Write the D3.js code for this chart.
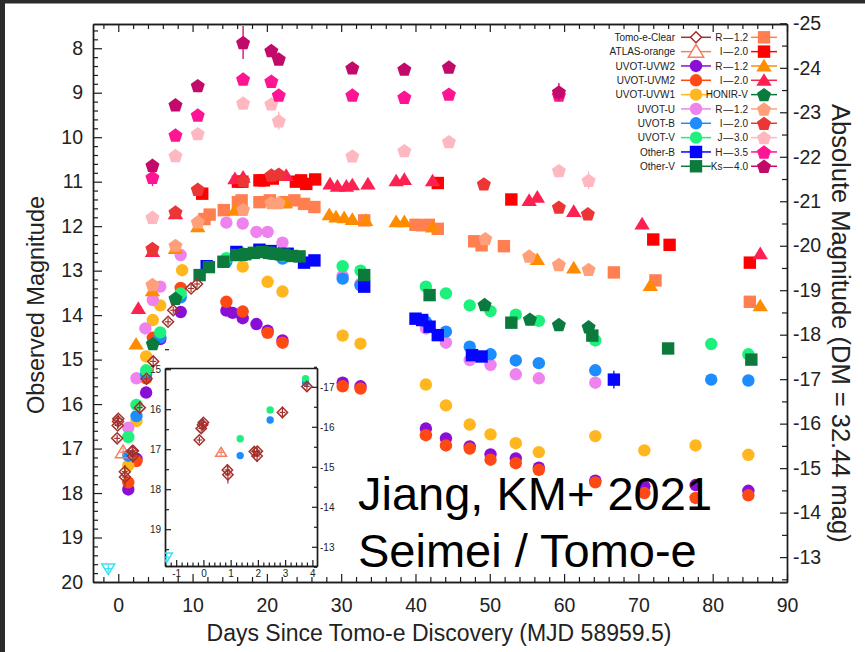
<!DOCTYPE html>
<html>
<head>
<meta charset="utf-8">
<script src="https://cdn.jsdelivr.net/npm/d3@7"></script>
<style>
  html, body { margin: 0; padding: 0; background: #fff; }
  svg { display: block; font-family: "Liberation Sans", Arial, Helvetica, sans-serif; }
</style>
</head>
<body>
<svg id="chart" width="865" height="652"></svg>
<script>
// Light curves: [days since Tomo-e discovery, observed magnitude, (1-sigma error)]
const tomoeClear = [[-0.15,16.77,0.08],[-0.08,16.48,0.08],[-0.03,16.39,0.08],[0.0,16.33,0.08],
  [0.88,17.52,0.15],[0.9,17.64,0.22],[1.87,17.06,0.12],[1.98,17.05,0.1],[1.97,17.17,0.15],
  [2.9,16.08,0.15],[3.8,15.43,0.08],[4.7,15.04,0.12],[6.7,14.15,0.08],[7.4,13.89,0.08],
  [9.8,13.4,0.05],[10.6,13.3,0.05]];
const atlasOrange = [[0.65,17.08,0.08]];
const upperLimits = [[-1.35,19.7]];
const uvotUVW2 = [[1.35,17.92],[2.45,17.23],[3.75,15.74],[5.65,14.54],[8.4,13.93],[14.55,13.9],
  [15.4,13.95],[16.75,14.07],[18.6,14.2],[20.1,14.35],[22.1,14.57],[30.2,15.52],[32.6,15.6],
  [41.4,16.55],[44.1,16.77],[47.3,16.95],[50.1,17.13],[53.5,17.22],[56.6,17.43],[64.2,17.72],
  [70.8,17.85],[77.7,17.82],[84.8,17.95,0.1]];
const uvotUVM2 = [[1.35,17.76],[2.45,17.28],[3.75,15.42],[4.65,14.51],[8.4,13.39],[14.55,13.7],
  [16.75,13.92],[20.1,14.4],[22.1,14.62],[30.2,15.6],[32.6,15.65],[41.4,16.7],[44.1,16.93],
  [47.3,17.0],[50.1,17.25],[53.5,17.33],[56.6,17.48],[64.2,17.76],[70.8,18.0],[77.7,18.11],
  [84.8,18.05,0.1]];
const uvotUVW1 = [[1.35,17.38],[2.45,16.38],[3.75,14.93],[4.65,14.11],[5.65,13.78],[8.6,12.99],
  [16.75,12.91],[20.1,13.25],[22.1,13.47],[30.2,14.46],[32.6,14.64],[41.4,15.56],[44.1,16.03],
  [47.3,16.46],[50.1,16.68],[53.5,16.88],[56.6,17.08],[64.2,16.72],[70.8,17.04],[77.7,16.93],
  [84.8,17.14]];
const uvotU = [[1.35,16.53],[2.45,15.42],[3.65,14.3],[4.65,13.66],[5.65,13.36],[8.4,12.65],
  [14.55,11.92],[16.75,11.94],[18.6,12.13],[20.1,12.13],[22.1,12.37],[30.2,13.12],[32.6,13.3],
  [41.4,14.3],[44.1,14.62],[47.3,15.01],[50.1,15.12],[53.5,15.33],[56.6,15.42],[64.2,15.52]];
const uvotB = [[1.35,17.16],[2.45,16.27],[3.75,15.33],[5.65,14.5],[8.4,13.6],[14.55,12.8],
  [16.75,12.62],[20.1,12.6],[22.1,12.73],[30.2,13.18],[32.6,13.33],[41.4,14.15],[44.1,14.37],
  [47.3,14.71],[50.1,14.88],[53.5,15.02],[56.6,15.08],[64.2,15.24],[79.8,15.45],[84.8,15.47]];
const uvotV = [[1.35,16.74],[2.45,16.02],[3.75,15.24],[5.65,14.39],[8.4,13.51],[14.55,12.72],
  [16.75,12.62],[20.1,12.6],[22.1,12.66],[30.2,12.9],[32.6,13.0],[41.4,13.36],[44.1,13.51],
  [47.3,13.78],[50.1,13.91],[53.5,13.99],[56.6,14.13],[64.2,14.57],[79.8,14.65],[84.8,14.88]];
const otherB = [[11.9,12.9],[15.9,12.58],[19.0,12.53],[20.5,12.56],[22.8,12.62],[25.0,12.82],
  [26.4,12.77],[33.1,13.36],[40.0,14.08],[40.9,14.11],[41.9,14.26],[43.0,14.45],[47.6,14.9],
  [48.9,14.93],[66.7,15.45,0.2]];
const otherV = [[10.95,13.1],[12.2,12.92],[14.15,12.8],[15.9,12.65],[17.1,12.63],[18.25,12.6],
  [19.4,12.58],[20.3,12.6],[21.2,12.62],[22.3,12.64],[23.4,12.67],[24.4,12.68],[33.1,13.1],
  [41.9,13.55],[52.9,14.17],[63.8,14.46],[74.0,14.75],[85.2,15.0]];
const rSquare = [[11.6,11.84],[12.3,11.74],[14.2,11.64],[16.1,11.46],[16.6,11.42],[19.0,11.46],
  [20.4,11.42],[22.5,11.46],[23.7,11.42],[25.0,11.5],[26.4,11.57],[33.1,11.87],[40.0,11.97],
  [40.9,11.98],[41.8,11.97],[43.0,12.06],[47.9,12.34],[48.9,12.43],[51.9,12.45],[66.7,13.04],
  [72.3,13.22],[85.0,13.7]];
const iSquare = [[11.3,11.27],[16.1,11.0],[16.7,11.0],[19.0,10.97],[19.6,10.97],[20.8,10.93],
  [23.9,11.0],[24.6,10.97],[25.3,11.05],[26.5,10.95],[43.0,11.03],[52.9,11.4],[72.0,12.3],
  [74.2,12.42],[85.0,12.82]];
const rTriangle = [[2.4,14.65],[4.6,13.45],[7.7,12.5],[10.7,12.01],[15.7,11.64],[22.5,11.47],
  [28.4,11.74],[29.3,11.79],[30.4,11.81],[31.5,11.85],[33.3,11.87],[37.4,11.9],[38.5,11.9],
  [42.3,12.02],[56.4,12.75],[61.3,12.94],[71.6,13.33],[86.4,13.79]];
const iTriangle = [[2.7,13.85],[4.6,12.57],[7.7,11.72],[15.7,10.93],[16.8,10.9],[22.6,10.86],
  [28.5,11.05],[29.5,11.1],[30.7,11.1],[31.5,11.07],[33.6,11.05],[37.4,10.98],[38.5,10.95],
  [42.3,10.98],[55.3,11.42],[56.4,11.35],[61.3,11.67],[70.5,11.95],[86.4,12.62]];
const honirV = [[4.65,14.64],[7.7,13.62],[16.8,12.63],[20.6,12.6],[21.6,12.62],[49.3,13.76],
  [55.4,14.09],[59.3,14.21],[63.3,14.26]];
const rPentagon = [[4.6,13.31],[7.7,12.43],[10.7,11.9],[16.8,11.62],[20.6,11.47],[21.6,11.47],
  [49.4,12.28],[55.3,12.67],[59.3,12.86],[63.3,12.97]];
const iPentagon = [[4.6,12.5],[7.7,11.68],[10.7,11.17],[16.8,10.97],[20.6,10.85],[21.6,10.83],
  [49.2,11.05],[59.3,11.57],[63.2,11.72]];
const jBand = [[4.6,11.8,0.1],[7.7,10.41],[10.7,9.92],[16.8,9.23],[20.6,9.25],[21.6,9.63,0.2],
  [31.5,10.42],[38.5,10.3],[44.5,10.1],[59.3,10.75],[63.3,10.97,0.2]];
const hBand = [[4.6,10.9,0.2],[7.7,9.95],[10.7,9.5],[16.8,8.69],[20.6,8.74],[21.6,9.05],
  [31.5,9.05],[38.5,9.1],[44.5,9.03],[59.3,9.05]];
const ksBand = [[4.6,10.63,0.12],[7.7,9.27],[10.7,8.84],[16.8,7.87,0.37],[20.6,8.05],[21.6,8.24],
  [31.5,8.44],[38.5,8.47],[44.5,8.42],[59.3,8.98,0.2]];

// Axis ticks
const dayTicks = [0, 10, 20, 30, 40, 50, 60, 70, 80, 90];
const magTicks = [8, 9, 10, 11, 12, 13, 14, 15, 16, 17, 18, 19, 20];
const absTicks = [-25, -24, -23, -22, -21, -20, -19, -18, -17, -16, -15, -14, -13];
const insetDayTicks = [-1, 0, 1, 2, 3, 4];
const insetMagTicks = [15, 16, 17, 18, 19];
const insetAbsTicks = [-17, -16, -15, -14, -13];
const DM = 32.44;

// Series definitions (legend order: left column, then right column)
const series = [
  { label: 'Tomo-e-Clear', data: tomoeClear, shape: 'diamond', color: '#a3302c', open: true },
  { label: 'ATLAS-orange', data: atlasOrange, shape: 'triangle', color: '#f4805f', open: true },
  { label: 'UVOT-UVW2', data: uvotUVW2, shape: 'circle', color: '#8a0fd6' },
  { label: 'UVOT-UVM2', data: uvotUVM2, shape: 'circle', color: '#ff4914' },
  { label: 'UVOT-UVW1', data: uvotUVW1, shape: 'circle', color: '#ffb61f' },
  { label: 'UVOT-U', data: uvotU, shape: 'circle', color: '#ee82ee' },
  { label: 'UVOT-B', data: uvotB, shape: 'circle', color: '#1c8cff' },
  { label: 'UVOT-V', data: uvotV, shape: 'circle', color: '#1ef07c' },
  { label: 'Other-B', data: otherB, shape: 'square', color: '#0505ff' },
  { label: 'Other-V', data: otherV, shape: 'square', color: '#0b7a3c' },
  { label: 'R\u200A\u2014\u200A1.2', data: rSquare, shape: 'square', color: '#ff7f50' },
  { label: 'I\u200A\u2014\u200A2.0', data: iSquare, shape: 'square', color: '#ff0000' },
  { label: 'R\u200A\u2014\u200A1.2', data: rTriangle, shape: 'triangle', color: '#ff8c00' },
  { label: 'I\u200A\u2014\u200A2.0', data: iTriangle, shape: 'triangle', color: '#ff2052' },
  { label: 'HONIR-V', data: honirV, shape: 'pentagon', color: '#0a7a3e' },
  { label: 'R\u200A\u2014\u200A1.2', data: rPentagon, shape: 'pentagon', color: '#ffa07a' },
  { label: 'I\u200A\u2014\u200A2.0', data: iPentagon, shape: 'pentagon', color: '#ec3636' },
  { label: 'J\u200A\u2014\u200A3.0', data: jBand, shape: 'pentagon', color: '#ffb8c0' },
  { label: 'H\u200A\u2014\u200A3.5', data: hBand, shape: 'pentagon', color: '#ff1493' },
  { label: 'Ks\u200A\u2014\u200A4.0', data: ksBand, shape: 'pentagon', color: '#c20a6a' }
];
const limitSeries = { data: upperLimits, shape: 'triangleDown', color: '#35e2f2', open: true };

// Drawing order, bottom to top
const drawOrder = [2, 3, 4, 5, 6, 7, 10, 11, 12, 13, 8, 9, 14, 15, 16, 17, 18, 19, 1, 0];
// Series repeated in the early-time inset
const insetOrder = [6, 7, 1, 0];

const svg = d3.select('#chart');
const INK = '#1c1c1c';

// Dark page edge
svg.append('rect').attr('x', 0).attr('y', 0).attr('width', 865).attr('height', 3.5).attr('fill', '#2b2b2b');
svg.append('rect').attr('x', 0).attr('y', 0).attr('width', 5).attr('height', 652).attr('fill', '#2b2b2b');

// Main scales
const P = { l: 93, r: 787, t: 24, b: 582 };
const x = d3.scaleLinear().domain([-3.4, 90]).range([P.l, P.r]);
const y = d3.scaleLinear().domain([7.455, 20]).range([P.t, P.b]);
const yAbs = d3.scaleLinear().domain([7.455 - DM, 20 - DM]).range([P.t, P.b]);

function shapePath(shape, s) {
  switch (shape) {
    case 'circle':
      return `M${s},0A${s},${s},0,1,1,${-s},0A${s},${s},0,1,1,${s},0Z`;
    case 'square':
      return `M${-s},${-s}H${s}V${s}H${-s}Z`;
    case 'triangle': {
      const h = s * 1.15;
      return `M0,${-h}L${h * 1.08},${h * 0.78}L${-h * 1.08},${h * 0.78}Z`;
    }
    case 'triangleDown': {
      const h = s * 1.15;
      return `M0,${h}L${h * 1.08},${-h * 0.78}L${-h * 1.08},${-h * 0.78}Z`;
    }
    case 'diamond': {
      const h = s * 1.1;
      return `M0,${-h}L${h},0L0,${h}L${-h},0Z`;
    }
    case 'pentagon': {
      const R = s * 1.12;
      const pts = d3.range(5).map(i => {
        const a = -Math.PI / 2 + i * 2 * Math.PI / 5;
        return [R * Math.cos(a), R * Math.sin(a) + R * 0.1];
      });
      return 'M' + pts.map(p => p.join(',')).join('L') + 'Z';
    }
  }
}

const mainSize = { circle: 6.2, square: 6.2, triangle: 6.2, pentagon: 6.6, diamond: 5.0, triangleDown: 5.2 };
const insetSize = { circle: 3.7, square: 3.7, triangle: 4.4, pentagon: 4, diamond: 4.7, triangleDown: 4.6 };

function drawSeries(g, s, sx, sy, sizes) {
  const size = sizes[s.shape];
  const grp = g.append('g');
  // error bars
  grp.selectAll('line.err').data(s.data.filter(d => d[2] !== undefined && !s.open)).join('line')
    .attr('x1', d => sx(d[0])).attr('x2', d => sx(d[0]))
    .attr('y1', d => sy(d[1] - d[2])).attr('y2', d => sy(d[1] + d[2]))
    .attr('stroke', s.color).attr('stroke-width', 1.3);
  grp.selectAll('path.mk').data(s.data).join('path')
    .attr('transform', d => `translate(${sx(d[0])},${sy(d[1])})`)
    .attr('d', shapePath(s.shape, size))
    .attr('fill', s.open ? 'none' : s.color)
    .attr('stroke', s.open ? s.color : 'none')
    .attr('stroke-width', s.open ? 1.5 : 0);
  if (s.open) {
    // cross-hair error marks inside open symbols
    grp.selectAll('line.v').data(s.data).join('line')
      .attr('x1', d => sx(d[0])).attr('x2', d => sx(d[0]))
      .attr('y1', d => Math.min(sy(d[1]) - size * 0.7, d[2] ? sy(d[1] - d[2]) : Infinity))
      .attr('y2', d => Math.max(sy(d[1]) + size * 0.7, d[2] ? sy(d[1] + d[2]) : -Infinity))
      .attr('stroke', s.color).attr('stroke-width', 1.2);
    grp.selectAll('line.h').data(s.data).join('line')
      .attr('x1', d => sx(d[0]) - size * 0.6).attr('x2', d => sx(d[0]) + size * 0.6)
      .attr('y1', d => sy(d[1])).attr('y2', d => sy(d[1]))
      .attr('stroke', s.color).attr('stroke-width', 1.2);
  }
}

// ---- main panel axes ----
function styleAxis(g, fs) {
  g.select('.domain').attr('stroke', INK).attr('stroke-width', 1.4);
  g.selectAll('.tick line').attr('stroke', INK).attr('stroke-width', 1.2);
  g.selectAll('text').attr('font-size', fs).attr('fill', '#222')
    .attr('font-family', '"Liberation Sans", Arial, Helvetica, sans-serif');
}
const axes = svg.append('g');
const minorMag = d3.range(38, 101).filter(i => i % 5 !== 0).map(i => i / 5);
const minorDay = d3.range(-2, 90, 2).filter(d => d % 10 !== 0);
const minorAbs = d3.range(-49, -24, 2).map(i => i / 2);

axes.append('g').attr('transform', `translate(${P.l},0)`)
  .call(d3.axisLeft(y).tickValues(magTicks).tickSizeInner(-9).tickSizeOuter(0).tickPadding(10).tickFormat(d => String(d)))
  .call(g => styleAxis(g, 19.5));
axes.append('g').attr('transform', `translate(${P.l},0)`)
  .call(d3.axisLeft(y).tickValues(minorMag).tickSizeInner(-5).tickSizeOuter(0).tickFormat(() => ''))
  .call(g => styleAxis(g, 1));
axes.append('g').attr('transform', `translate(${P.r},0)`)
  .call(d3.axisRight(yAbs).tickValues(absTicks).tickSizeInner(-7).tickSizeOuter(0).tickPadding(6).tickFormat(d => String(d)))
  .call(g => styleAxis(g, 19.5));
axes.append('g').attr('transform', `translate(${P.r},0)`)
  .call(d3.axisRight(yAbs).tickValues(minorAbs).tickSizeInner(-5).tickSizeOuter(0).tickFormat(() => ''))
  .call(g => styleAxis(g, 1));
axes.append('g').attr('transform', `translate(0,${P.b})`)
  .call(d3.axisBottom(x).tickValues(dayTicks).tickSizeInner(-8).tickSizeOuter(0).tickPadding(16).tickFormat(d => String(d)))
  .call(g => styleAxis(g, 19.5));
axes.append('g').attr('transform', `translate(0,${P.b})`)
  .call(d3.axisBottom(x).tickValues(minorDay).tickSizeInner(-5).tickSizeOuter(0).tickFormat(() => ''))
  .call(g => styleAxis(g, 1));
axes.append('g').attr('transform', `translate(0,${P.t})`)
  .call(d3.axisTop(x).tickValues(dayTicks).tickSizeInner(-8).tickSizeOuter(0).tickFormat(() => ''))
  .call(g => styleAxis(g, 1));
axes.append('g').attr('transform', `translate(0,${P.t})`)
  .call(d3.axisTop(x).tickValues(minorDay).tickSizeInner(-5).tickSizeOuter(0).tickFormat(() => ''))
  .call(g => styleAxis(g, 1));

// axis titles
svg.append('text').attr('x', 439).attr('y', 641).attr('text-anchor', 'middle')
  .attr('font-size', 23).attr('fill', '#222').text('Days Since Tomo-e Discovery (MJD 58959.5)');
svg.append('text').attr('transform', 'translate(44,305) rotate(-90)').attr('text-anchor', 'middle')
  .attr('font-size', 23.5).attr('fill', '#222').text('Observed Magnitude');
svg.append('text').attr('transform', 'translate(832,104) rotate(90)').attr('text-anchor', 'start')
  .attr('font-size', 25.5).attr('fill', '#222').text('Absolute Magnitude (DM = 32.44 mag)');

// ---- main panel data ----
const marks = svg.append('g');
drawSeries(marks, limitSeries, x, y, mainSize);
drawOrder.forEach(i => drawSeries(marks, series[i], x, y, mainSize));

// ---- legend ----
const legend = svg.append('g').attr('font-size', 10).attr('fill', '#222');
series.forEach((s, i) => {
  const col = i < 10 ? 0 : 1;
  const row = i % 10;
  const ly = 37.3 + row * 14.33;
  const textEnd = col === 0 ? 675 : 748;
  const mx = col === 0 ? 696 : 764;
  const l0 = col === 0 ? 681 : 751;
  const l1 = col === 0 ? 711 : 777;
  legend.append('text').attr('x', textEnd).attr('y', ly + 3.6).attr('text-anchor', 'end').text(s.label);
  legend.append('line').attr('x1', l0).attr('x2', l1).attr('y1', ly).attr('y2', ly)
    .attr('stroke', s.color).attr('stroke-width', 1.5);
  const sz = mainSize[s.shape];
  legend.append('path').attr('transform', `translate(${mx},${ly})`).attr('d', shapePath(s.shape, sz))
    .attr('fill', s.open ? '#fff' : s.color).attr('stroke', s.open ? s.color : 'none')
    .attr('stroke-width', 1.5);
});

// ---- annotation ----
svg.append('text').attr('x', 358).attr('y', 510).attr('font-size', 47).attr('fill', '#000').text('Jiang, KM+ 2021');
svg.append('text').attr('x', 358).attr('y', 567).attr('font-size', 47).attr('fill', '#000').text('Seimei / Tomo-e');

// ---- inset: first days ----
const I = { l: 165, r: 317, t: 368, b: 566 };
const ix = d3.scaleLinear().domain([-1.41, 4.17]).range([I.l, I.r]);
const iy = d3.scaleLinear().domain([14.97, 19.92]).range([I.t, I.b]);
const iyAbs = d3.scaleLinear().domain([14.97 - DM, 19.92 - DM]).range([I.t, I.b]);
const inset = svg.append('g');
inset.append('rect').attr('x', I.l).attr('y', I.t).attr('width', I.r - I.l).attr('height', I.b - I.t)
  .attr('fill', '#fff');
svg.append('clipPath').attr('id', 'insetClip').append('rect')
  .attr('x', I.l).attr('y', I.t).attr('width', I.r - I.l).attr('height', I.b - I.t);

const iMinorMag = d3.range(29, 40, 2).map(i => i / 2);
const iMinorDay = d3.range(-7, 21).map(i => i / 5).filter(d => Math.abs(d - Math.round(d)) > 1e-6);
const iMinorAbs = d3.range(-35, -24, 2).map(i => i / 2);
inset.append('g').attr('transform', `translate(${I.l},0)`)
  .call(d3.axisLeft(iy).tickValues(insetMagTicks).tickSizeInner(-6).tickSizeOuter(0).tickPadding(4).tickFormat(d => String(d)))
  .call(g => styleAxis(g, 10));
inset.append('g').attr('transform', `translate(${I.l},0)`)
  .call(d3.axisLeft(iy).tickValues(iMinorMag).tickSizeInner(-4).tickSizeOuter(0).tickFormat(() => ''))
  .call(g => styleAxis(g, 1));
inset.append('g').attr('transform', `translate(${I.r},0)`)
  .call(d3.axisRight(iyAbs).tickValues(insetAbsTicks).tickSizeInner(-5).tickSizeOuter(0).tickPadding(3).tickFormat(d => String(d)))
  .call(g => styleAxis(g, 10));
inset.append('g').attr('transform', `translate(${I.r},0)`)
  .call(d3.axisRight(iyAbs).tickValues(iMinorAbs).tickSizeInner(-3).tickSizeOuter(0).tickFormat(() => ''))
  .call(g => styleAxis(g, 1));
inset.append('g').attr('transform', `translate(0,${I.b})`)
  .call(d3.axisBottom(ix).tickValues(insetDayTicks).tickSizeInner(-6).tickSizeOuter(0).tickPadding(4).tickFormat(d => String(d)))
  .call(g => styleAxis(g, 10));
inset.append('g').attr('transform', `translate(0,${I.b})`)
  .call(d3.axisBottom(ix).tickValues(iMinorDay).tickSizeInner(-3.5).tickSizeOuter(0).tickFormat(() => ''))
  .call(g => styleAxis(g, 1));
inset.append('g').attr('transform', `translate(0,${I.t})`)
  .call(d3.axisTop(ix).tickValues(insetDayTicks).tickSizeInner(0).tickSizeOuter(0).tickFormat(() => ''))
  .call(g => styleAxis(g, 1));

const insetMarks = inset.append('g').attr('clip-path', 'url(#insetClip)');
drawSeries(insetMarks, limitSeries, ix, iy, insetSize);
insetOrder.forEach(i => drawSeries(insetMarks, series[i], ix, iy, insetSize));
</script>
</body>
</html>
